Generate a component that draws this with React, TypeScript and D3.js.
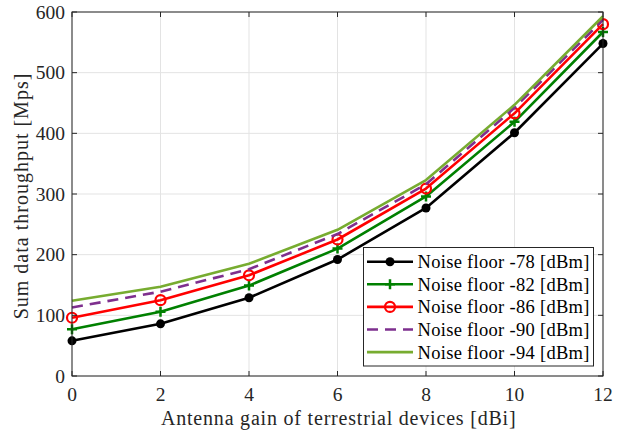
import React from "react";
import * as d3 from "d3";

const xValues = [0, 2, 4, 6, 8, 10, 12];
const nf78 = [58, 86, 129, 192, 277, 401, 548];
const nf82 = [77, 106, 149, 210, 296, 419, 567];
const nf86 = [96, 125, 166, 225, 309, 433, 580];
const nf90 = [113, 139, 176, 234, 316, 442, 587];
const nf94 = [124, 147, 185, 241, 323, 447, 593];
const seriesNames = [
  "Noise floor -78 [dBm]",
  "Noise floor -82 [dBm]",
  "Noise floor -86 [dBm]",
  "Noise floor -90 [dBm]",
  "Noise floor -94 [dBm]",
];
const xTicks = [0, 2, 4, 6, 8, 10, 12];
const yTicks = [0, 100, 200, 300, 400, 500, 600];

const W = 625;
const H = 434;
const L = 72, R = 603, T = 12, B = 376;
const FONT = "'Liberation Serif', 'Times New Roman', serif";
const AX = "#262626";

type S = { name: string; vals: number[]; color: string; dash?: string; marker: string };

const series: S[] = [
  { name: seriesNames[0], vals: nf78, color: "#000000", marker: "dot" },
  { name: seriesNames[1], vals: nf82, color: "#008000", marker: "plus" },
  { name: seriesNames[2], vals: nf86, color: "#ff0000", marker: "circle" },
  { name: seriesNames[3], vals: nf90, color: "#7e2f8e", dash: "11,7", marker: "none" },
  { name: seriesNames[4], vals: nf94, color: "#77ac30", marker: "none" },
];

function Marker({ kind, x, y, color }: { kind: string; x: number; y: number; color: string }) {
  if (kind === "dot") return <circle cx={x} cy={y} r={4.5} fill={color} />;
  if (kind === "plus")
    return (
      <path d={`M${x - 5},${y}H${x + 5}M${x},${y - 5}V${y + 5}`} stroke={color} strokeWidth={2.5} />
    );
  if (kind === "circle")
    return <circle cx={x} cy={y} r={5} fill="none" stroke={color} strokeWidth={2.2} />;
  return null;
}

export default function App() {
  const x = d3.scaleLinear().domain([0, 12]).range([L, R]);
  const y = d3.scaleLinear().domain([0, 600]).range([B, T]);
  const line = d3
    .line<number>()
    .x((_, i) => x(xValues[i]))
    .y((d) => y(d));

  const legX = 363.5, legY = 247.5, legW = 230, legH = 118.5;
  const rowY = (i: number) => 261.7 + i * 22.6;

  return (
    <svg width={W} height={H} style={{ position: "absolute", left: 0, top: 0 }}>
      <rect x={0} y={0} width={W} height={H} fill="#fff" />
      {xTicks.map((t) => (
        <line key={"gx" + t} x1={x(t)} x2={x(t)} y1={T} y2={B} stroke="#e3e3e3" strokeWidth={1} />
      ))}
      {yTicks.map((t) => (
        <line key={"gy" + t} x1={L} x2={R} y1={y(t)} y2={y(t)} stroke="#e3e3e3" strokeWidth={1} />
      ))}
      {series.map((s) => (
        <g key={s.name}>
          <path
            d={line(s.vals) || ""}
            fill="none"
            stroke={s.color}
            strokeWidth={2.6}
            strokeDasharray={s.dash}
            strokeLinejoin="round"
          />
          {s.vals.map((v, i) => (
            <Marker key={i} kind={s.marker} x={x(xValues[i])} y={y(v)} color={s.color} />
          ))}
        </g>
      ))}
      <rect x={L} y={T} width={R - L} height={B - T} fill="none" stroke={AX} strokeWidth={1} />
      {xTicks.map((t) => (
        <g key={"tx" + t}>
          <line x1={x(t)} x2={x(t)} y1={B} y2={B - 5} stroke={AX} />
          <line x1={x(t)} x2={x(t)} y1={T} y2={T + 5} stroke={AX} />
          <text
            x={x(t)}
            y={394}
            dy="0.35em"
            textAnchor="middle"
            fontFamily={FONT}
            fontSize={19.5}
            fill={AX}
          >
            {t}
          </text>
        </g>
      ))}
      {yTicks.map((t) => (
        <g key={"ty" + t}>
          <line x1={L} x2={L + 5} y1={y(t)} y2={y(t)} stroke={AX} />
          <line x1={R} x2={R - 5} y1={y(t)} y2={y(t)} stroke={AX} />
          <text
            x={65}
            y={y(t)}
            dy="0.35em"
            textAnchor="end"
            fontFamily={FONT}
            fontSize={19.5}
            fill={AX}
          >
            {t}
          </text>
        </g>
      ))}
      <text
        x={(160.7 + 516.7) / 2}
        y={418}
        dy="0.35em"
        textAnchor="middle"
        fontFamily={FONT}
        fontSize={20}
        letterSpacing={0.8}
        fill={AX}
      >
        Antenna gain of terrestrial devices [dBi]
      </text>
      <text
        transform={`translate(21,196) rotate(-90)`}
        textAnchor="middle"
        dy="0.35em"
        fontFamily={FONT}
        fontSize={20}
        letterSpacing={1}
        fill={AX}
      >
        Sum data throughput [Mps]
      </text>
      <rect x={legX} y={legY} width={legW} height={legH} fill="#fff" stroke={AX} strokeWidth={1} />
      {series.map((s, i) => (
        <g key={"lg" + i}>
          <line
            x1={367}
            x2={413}
            y1={rowY(i)}
            y2={rowY(i)}
            stroke={s.color}
            strokeWidth={2.6}
            strokeDasharray={s.dash}
          />
          <Marker kind={s.marker} x={390} y={rowY(i)} color={s.color} />
          <text
            x={417.5}
            y={rowY(i)}
            dy="0.35em"
            fontFamily={FONT}
            fontSize={18.5}
            letterSpacing={0.3}
            fill="#000"
          >
            {s.name}
          </text>
        </g>
      ))}
    </svg>
  );
}
